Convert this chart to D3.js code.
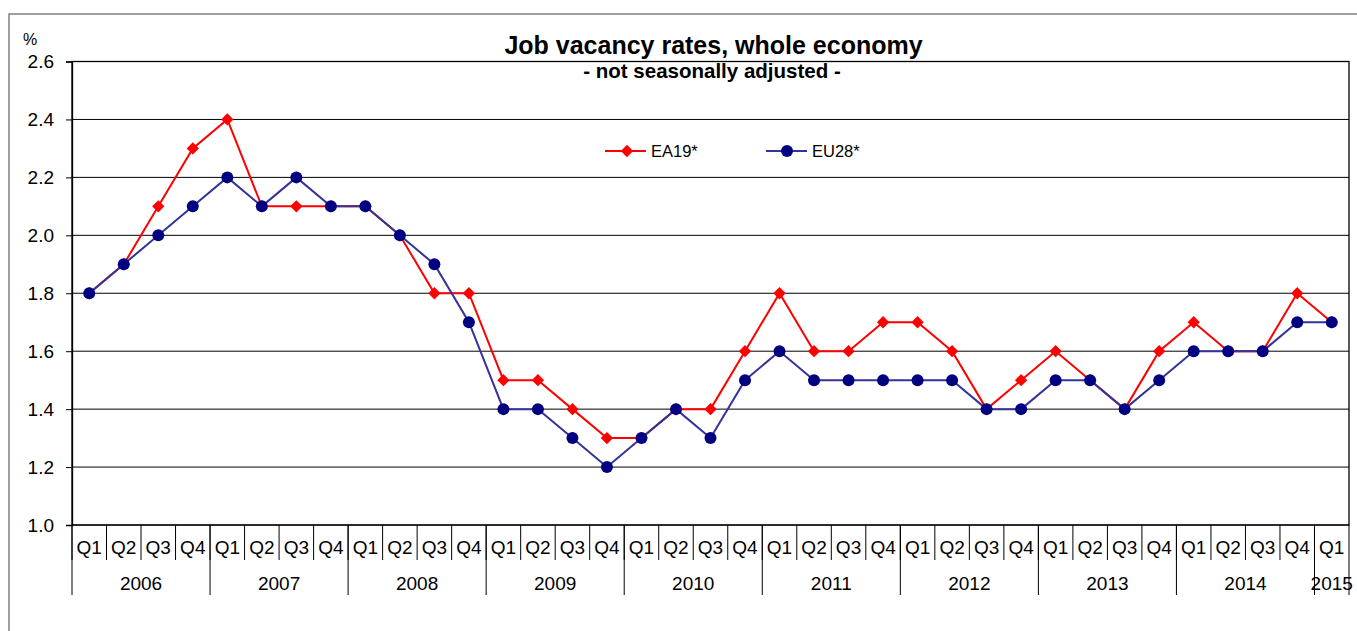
<!DOCTYPE html>
<html>
<head>
<meta charset="utf-8">
<script src="https://cdn.jsdelivr.net/npm/d3@7"></script>
<style>
  body { margin: 0; background: #fff; }
  text { font-family: Arial, "Liberation Sans", sans-serif; fill: #000; }
</style>
</head>
<body>
<div id="chart"></div>
<script>
var width = 1357,
    height = 631;

// quarters 2006 Q1 .. 2015 Q1
var periods = ["2006 Q1","2006 Q2","2006 Q3","2006 Q4",
  "2007 Q1","2007 Q2","2007 Q3","2007 Q4",
  "2008 Q1","2008 Q2","2008 Q3","2008 Q4",
  "2009 Q1","2009 Q2","2009 Q3","2009 Q4",
  "2010 Q1","2010 Q2","2010 Q3","2010 Q4",
  "2011 Q1","2011 Q2","2011 Q3","2011 Q4",
  "2012 Q1","2012 Q2","2012 Q3","2012 Q4",
  "2013 Q1","2013 Q2","2013 Q3","2013 Q4",
  "2014 Q1","2014 Q2","2014 Q3","2014 Q4",
  "2015 Q1"];
var years = ["2006","2007","2008","2009","2010","2011","2012","2013","2014","2015"];

var ea19 = [1.8,1.9,2.1,2.3, 2.4,2.1,2.1,2.1, 2.1,2.0,1.8,1.8, 1.5,1.5,1.4,1.3,
            1.3,1.4,1.4,1.6, 1.8,1.6,1.6,1.7, 1.7,1.6,1.4,1.5, 1.6,1.5,1.4,1.6,
            1.7,1.6,1.6,1.8, 1.7];
var eu28 = [1.8,1.9,2.0,2.1, 2.2,2.1,2.2,2.1, 2.1,2.0,1.9,1.7, 1.4,1.4,1.3,1.2,
            1.3,1.4,1.3,1.5, 1.6,1.5,1.5,1.5, 1.5,1.5,1.4,1.4, 1.5,1.5,1.4,1.5,
            1.6,1.6,1.6,1.7, 1.7];
var yTicks = [1.0,1.2,1.4,1.6,1.8,2.0,2.2,2.4,2.6];

var plotLeft = 72, plotRight = 1349, plotTop = 61.5, plotBottom = 525;

var svg = d3.select("#chart")
    .append("svg")
    .attr("width", width)
    .attr("height", height);

svg.append("rect").attr("width", width).attr("height", height).attr("fill", "#fff");

// outer frame of the chart object
svg.append("path")
    .attr("d", "M9," + (height + 5) + "V14H" + (width + 5))
    .attr("fill", "none")
    .attr("stroke", "#808080")
    .attr("stroke-width", 1.5);

var x = d3.scaleBand()
    .domain(periods)
    .range([plotLeft, plotRight]);
var y = d3.scaleLinear()
    .domain([1.0, 2.6])
    .range([plotBottom, plotTop]);
var cx = function(d, i) { return x(periods[i]) + x.bandwidth() / 2; };

// gridlines
svg.append("g")
    .selectAll("line")
    .data(yTicks)
    .enter().append("line")
    .attr("x1", plotLeft)
    .attr("x2", plotRight)
    .attr("y1", function(d) { return y(d); })
    .attr("y2", function(d) { return y(d); })
    .attr("stroke", "#000")
    .attr("stroke-width", 1);

// plot frame
svg.append("rect")
    .attr("x", plotLeft).attr("y", plotTop)
    .attr("width", plotRight - plotLeft).attr("height", plotBottom - plotTop)
    .attr("fill", "none")
    .attr("stroke", "#000")
    .attr("stroke-width", 1.3);

var yAxis = svg.append("g")
    .attr("transform", "translate(" + plotLeft + ",0)")
    .call(d3.axisLeft(y).tickValues(yTicks).tickFormat(d3.format(".1f")).tickSize(6).tickPadding(12));
yAxis.select(".domain").attr("stroke", "#000").attr("stroke-width", 1.3);
yAxis.selectAll("line").attr("stroke", "#000");
yAxis.selectAll("text").style("font-size", "19px").attr("fill", "#000")
    .attr("font-family", "Arial, 'Liberation Sans', sans-serif");

svg.append("text")
    .attr("x", 23).attr("y", 45)
    .style("font-size", "16px")
    .text("%");

// category axis: quarters and years
var xAxis = svg.append("g");
xAxis.selectAll(".qtick")
    .data(periods)
    .enter().append("line")
    .attr("class", "qtick")
    .attr("x1", function(d) { return x(d); })
    .attr("x2", function(d) { return x(d); })
    .attr("y1", plotBottom)
    .attr("y2", plotBottom + 35)
    .attr("stroke", "#000");
xAxis.selectAll(".qlabel")
    .data(periods)
    .enter().append("text")
    .attr("class", "qlabel")
    .attr("x", function(d) { return x(d) + x.bandwidth() / 2; })
    .attr("y", plotBottom + 29)
    .attr("text-anchor", "middle")
    .style("font-size", "19px")
    .text(function(d) { return d.split(" ")[1]; });

var yearGroups = years.map(function(yr) {
  var qs = periods.filter(function(p) { return p.split(" ")[0] === yr; });
  return { year: yr, x0: x(qs[0]), x1: x(qs[qs.length - 1]) + x.bandwidth() };
});
xAxis.selectAll(".ytick")
    .data(yearGroups.map(function(g) { return g.x0; }).concat([plotRight]))
    .enter().append("line")
    .attr("class", "ytick")
    .attr("x1", function(d) { return d; })
    .attr("x2", function(d) { return d; })
    .attr("y1", plotBottom)
    .attr("y2", plotBottom + 70)
    .attr("stroke", "#000");
xAxis.selectAll(".ylabel")
    .data(yearGroups)
    .enter().append("text")
    .attr("class", "ylabel")
    .attr("x", function(d) { return (d.x0 + d.x1) / 2; })
    .attr("y", plotBottom + 65)
    .attr("text-anchor", "middle")
    .style("font-size", "19px")
    .text(function(d) { return d.year; });

// series
var line = d3.line()
    .x(cx)
    .y(function(d) { return y(d); });
var diamond = d3.symbol().type(d3.symbolSquare).size(76);

svg.append("path")
    .datum(ea19)
    .attr("d", line)
    .attr("fill", "none")
    .attr("stroke", "#ff0000")
    .attr("stroke-width", 2);
svg.append("g")
    .selectAll("path")
    .data(ea19)
    .enter().append("path")
    .attr("d", diamond)
    .attr("transform", function(d, i) { return "translate(" + cx(d, i) + "," + y(d) + ") rotate(45)"; })
    .attr("fill", "#ff0000");

svg.append("path")
    .datum(eu28)
    .attr("d", line)
    .attr("fill", "none")
    .attr("stroke", "#333399")
    .attr("stroke-width", 2);
svg.append("g")
    .selectAll("circle")
    .data(eu28)
    .enter().append("circle")
    .attr("cx", cx)
    .attr("cy", function(d) { return y(d); })
    .attr("r", 6)
    .attr("fill", "#000080");

// legend
var legend = svg.append("g");
legend.append("line").attr("x1", 605).attr("x2", 646).attr("y1", 151).attr("y2", 151)
    .attr("stroke", "#ff0000").attr("stroke-width", 2);
legend.append("path").attr("d", diamond)
    .attr("transform", "translate(627,151) rotate(45)").attr("fill", "#ff0000");
legend.append("text").attr("x", 651).attr("y", 157).style("font-size", "16.5px").text("EA19*");
legend.append("line").attr("x1", 766).attr("x2", 807).attr("y1", 151).attr("y2", 151)
    .attr("stroke", "#333399").attr("stroke-width", 2);
legend.append("circle").attr("cx", 787).attr("cy", 151).attr("r", 6).attr("fill", "#000080");
legend.append("text").attr("x", 812).attr("y", 157).style("font-size", "16.5px").text("EU28*");

// titles
svg.append("text")
    .attr("x", 713.5).attr("y", 54)
    .attr("text-anchor", "middle")
    .style("font-size", "25px")
    .style("font-weight", "bold")
    .text("Job vacancy rates, whole economy");
svg.append("text")
    .attr("x", 712).attr("y", 78)
    .attr("text-anchor", "middle")
    .style("font-size", "20.5px")
    .style("font-weight", "bold")
    .text("- not seasonally adjusted -");
</script>
</body>
</html>
